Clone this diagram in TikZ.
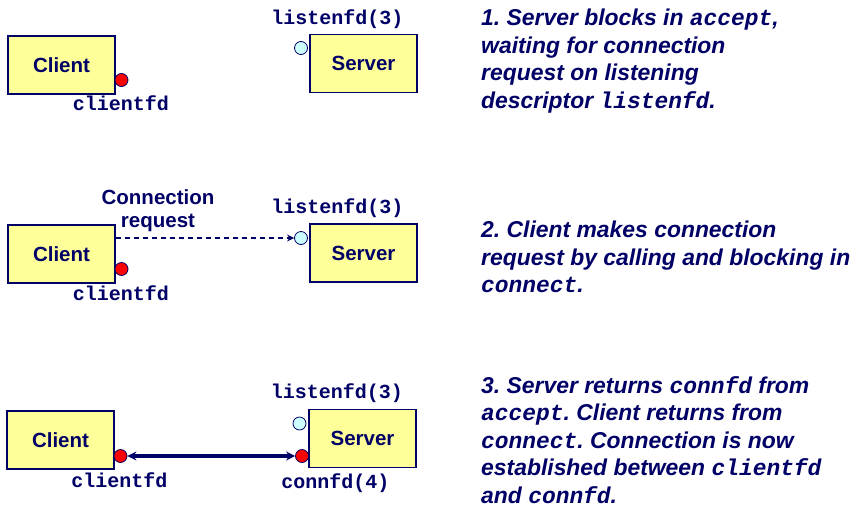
\documentclass[tikz,border=0pt]{standalone}
\usepackage{fontspec}
\setmainfont{Liberation Sans}
\setmonofont{Liberation Mono}
\usepackage{tikz}
\usetikzlibrary{arrows.meta}
\frenchspacing

\definecolor{navy}{RGB}{0,0,102}
\definecolor{hostyellow}{RGB}{255,255,153}
\definecolor{listencyan}{RGB}{204,255,255}

\begin{document}
\begin{tikzpicture}[x=1pt,y=-1pt,>={Stealth[length=9pt,width=9pt]},
  hostbox/.style={draw=navy,fill=hostyellow,line width=1.2pt,minimum width=107pt,
    minimum height=58pt,inner sep=0pt,text=navy,font=\fontsize{20.5}{24}\selectfont\bfseries},
  fdred/.style={circle,draw=navy,fill=red,line width=0.8pt,minimum size=13pt,inner sep=0pt},
  fdcyan/.style={circle,draw=navy,fill=listencyan,line width=0.8pt,minimum size=13pt,inner sep=0pt},
  fdlabel/.style={text=navy,font=\fontsize{20}{24}\selectfont\ttfamily\bfseries,inner sep=0pt,anchor=base},
  steptext/.style={text=navy,font=\fontsize{22.9}{27.5}\selectfont\bfseries\itshape,align=left,
    inner sep=0pt,anchor=base west}]
\useasboundingbox (0,0) rectangle (858,509);

% step 1
\node[hostbox] (client1) at (61.5,65) {Client};
\node[hostbox] (server1) at (363.5,63.5) {Server};
\node[fdred] (cfd1) at (121.5,80) {};
\node[fdcyan] (lfd1) at (301,48) {};
\node[fdlabel] (cfdlab1) at (121,110) {clientfd};
\node[fdlabel] (lfdlab1) at (337.5,24) {listenfd(3)};
\node[steptext] (note1) at (481,108) {1. Server blocks in \texttt{accept},\\
  waiting for connection\\ request on listening\\ descriptor \texttt{listenfd}.};

% step 2
\node[hostbox] (client2) at (61.5,254) {Client};
\node[hostbox] (server2) at (363.5,253) {Server};
\node[fdred] (cfd2) at (121.5,269) {};
\node[fdcyan] (lfd2) at (301,238) {};
\node[fdlabel] (cfdlab2) at (121,300.5) {clientfd};
\node[fdlabel] (lfdlab2) at (337.5,213) {listenfd(3)};
\node[text=navy,font=\fontsize{20.5}{23}\selectfont\bfseries,align=center,inner sep=0pt,anchor=base]
  (reqlab) at (158,227) {Connection\\ request};
\draw[navy,dash pattern=on 5pt off 4pt,line width=1.2pt,>={Stealth[length=7pt,width=7pt]},->]
  (client2.east |- lfd2) -- (lfd2.west);
\node[steptext] (note2) at (481,292.5) {2. Client makes connection\\
  request by calling and blocking in\\ \texttt{connect}.};

% step 3
\node[hostbox] (client3) at (60.5,440) {Client};
\node[hostbox] (server3) at (362.5,438.5) {Server};
\node[fdred] (cfd3) at (120.5,456) {};
\node[fdcyan] (lfd3) at (299.5,423.5) {};
\node[fdred] (confd3) at (302,456) {};
\node[fdlabel] (cfdlab3) at (119.5,487) {clientfd};
\node[fdlabel] (lfdlab3) at (337,398) {listenfd(3)};
\node[fdlabel] (conlab3) at (335.5,488) {connfd(4)};
\draw[navy,line width=2.6pt,<->] (cfd3.east) -- (confd3.west);
\fill[navy] (cfd3.east) ++(5,-1.6) rectangle ++(158,3.2);
\node[steptext] (note3) at (481,503) {3. Server returns \texttt{connfd} from\\
  \texttt{accept}. Client returns from\\ \texttt{connect}. Connection is now\\
  established between \texttt{clientfd}\\ and \texttt{connfd}.};
\end{tikzpicture}
\end{document}
